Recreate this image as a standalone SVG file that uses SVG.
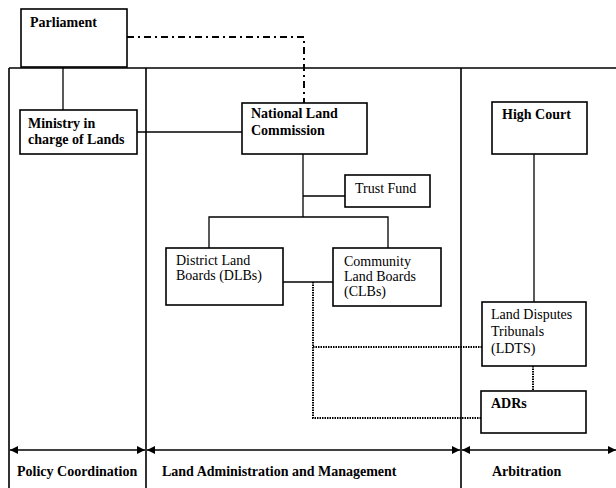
<svg xmlns="http://www.w3.org/2000/svg" width="616" height="488" viewBox="0 0 616 488">
<style>
  .box { fill: #fff; stroke: #000; stroke-width: 1.6; }
  .ln { fill: none; stroke: #000; stroke-width: 1.3; }
  .frame { fill: none; stroke: #000; stroke-width: 1.6; }
  .dot { fill: none; stroke: #000; stroke-width: 2; stroke-dasharray: 1.5 1; }
  .dd { fill: none; stroke: #000; stroke-width: 2; stroke-dasharray: 7 4 2 4; }
  text { font-family: "Liberation Serif", "Times New Roman", serif; font-size: 14px; fill: #000; }
  .b { font-weight: bold; }
</style>
<defs>
  <marker id="ah" viewBox="0 0 8 8" refX="8" refY="4" markerWidth="8" markerHeight="8" markerUnits="userSpaceOnUse" orient="auto-start-reverse">
    <path d="M0,0 L8,4 L0,8 Z" fill="#000"/>
  </marker>
</defs>
<rect width="616" height="488" fill="#fff"/>
<g id="frame">
  <path class="frame" d="M9,68 H616 M9,68 V488 M146,68 V488 M461,68 V488"/>
</g>
<g id="connectors">
  <path class="ln" d="M63,67 V110"/>
  <path class="ln" d="M137,132 H242"/>
  <path class="dd" d="M127,37 H304 V103"/>
  <path class="ln" d="M303,154 V217 M303,196 H345 M209,248 V217 H388 V248"/>
  <path class="ln" d="M283,282 H333"/>
  <path class="dot" d="M313,282 V418 H481 M313,347 H482"/>
  <path class="ln" d="M534,154 V302"/>
  <path class="dot" d="M533,366 V391"/>
  <path class="ln" d="M10,450 H145" marker-start="url(#ah)" marker-end="url(#ah)"/>
  <path class="ln" d="M147,450 H460" marker-start="url(#ah)" marker-end="url(#ah)"/>
  <path class="ln" d="M462,450 H616" marker-start="url(#ah)" marker-end="url(#ah)"/>
</g>
<g id="parliament">
  <rect class="box" x="21" y="9" width="106" height="58"/>
  <text class="b" x="30" y="27">Parliament</text>
</g>
<g id="ministry">
  <rect class="box" x="20" y="110" width="117" height="44"/>
  <text class="b" x="28" y="128">Ministry in</text>
  <text class="b" x="28" y="144">charge of Lands</text>
</g>
<g id="nlc">
  <rect class="box" x="242" y="103" width="125" height="51"/>
  <text class="b" x="251" y="118">National Land</text>
  <text class="b" x="251" y="135">Commission</text>
</g>
<g id="trust-fund">
  <rect class="box" x="345" y="175" width="85" height="32"/>
  <text x="355" y="193">Trust Fund</text>
</g>
<g id="dlb">
  <rect class="box" x="166" y="248" width="117" height="57"/>
  <text x="176" y="265">District Land</text>
  <text x="176" y="280">Boards (DLBs)</text>
</g>
<g id="clb">
  <rect class="box" x="333" y="248" width="108" height="58"/>
  <text x="344" y="266">Community</text>
  <text x="344" y="281">Land Boards</text>
  <text x="344" y="296">(CLBs)</text>
</g>
<g id="high-court">
  <rect class="box" x="492" y="102" width="95" height="52"/>
  <text class="b" x="502" y="119">High Court</text>
</g>
<g id="ldts">
  <rect class="box" x="482" y="302" width="104" height="64"/>
  <text x="491" y="319">Land Disputes</text>
  <text x="491" y="336">Tribunals</text>
  <text x="491" y="353">(LDTS)</text>
</g>
<g id="adrs">
  <rect class="box" x="481" y="391" width="105" height="42"/>
  <text class="b" x="491" y="408">ADRs</text>
</g>
<g id="labels">
  <text class="b" x="17" y="476">Policy Coordination</text>
  <text class="b" x="162" y="476">Land Administration and Management</text>
  <text class="b" x="492" y="476">Arbitration</text>
</g>
</svg>
